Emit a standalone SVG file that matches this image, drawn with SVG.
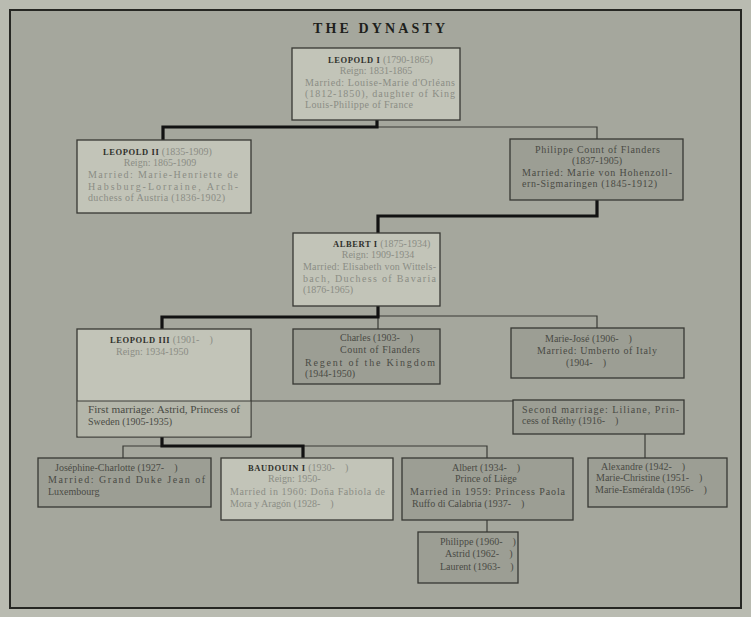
<svg xmlns="http://www.w3.org/2000/svg" width="751" height="617" viewBox="0 0 751 617">
  <style>
    text { font-family: "Liberation Serif", "Times New Roman", serif; font-size: 10px; }
    .title { font-size: 14px; font-weight: bold; fill: #1e1f1c; }
    .box-l { fill: #c2c4b8; stroke: #373833; stroke-width: 1.3; }
    .box-d { fill: #9c9e94; stroke: #373833; stroke-width: 1.3; }
    .box-m { fill: #b4b6aa; stroke: none; }
    .tl { fill: #8b8d85; }
    .tn { fill: #2f302c; font-weight: bold; font-size: 8.5px; letter-spacing: 0.6px; }
    .td { fill: #4a4b45; }
    .thick { fill: none; stroke: #121212; stroke-width: 3.2; }
    .thin { fill: none; stroke: #3a3b36; stroke-width: 1.2; }
  </style>

  <!-- page and frame -->
  <rect x="0" y="0" width="751" height="617" fill="#b9bbb1"/>
  <rect x="10" y="10" width="731" height="598" fill="#a5a79d" stroke="#262723" stroke-width="2"/>

  <text class="title" x="313" y="33" textLength="132" lengthAdjust="spacing">THE DYNASTY</text>

  <!-- connectors -->
  <g id="connectors">
    <path class="thin" d="M377 127 H597 V139"/>
    <path class="thick" d="M377 120 V127 H163 V140"/>
    <path class="thick" d="M597 200 V216 H378 V233"/>
    <path class="thin" d="M378 316 H597 V328 M378 316 V329"/>
    <path class="thick" d="M378 306 V317 H162 V329"/>
    <path class="thin" d="M251 401 H513"/>
    <path class="thin" d="M123 458 V446 H487 V458"/>
    <path class="thick" d="M162 437 V446 H303 V458"/>
    <path class="thin" d="M645 434 V458"/>
    <path class="thin" d="M487 520 V532"/>
  </g>

  <g id="leopold-1">
    <rect class="box-l" x="292" y="48" width="168" height="72"/>
    <text x="328" y="63"><tspan class="tn">LEOPOLD I</tspan><tspan class="tl"> (1790-1865)</tspan></text>
    <text class="tl" x="376" y="74" text-anchor="middle">Reign: 1831-1865</text>
    <text class="tl" x="305" y="86" textLength="150" lengthAdjust="spacing">Married: Louise-Marie d'Orléans</text>
    <text class="tl" x="305" y="97" textLength="150" lengthAdjust="spacing">(1812-1850), daughter of King</text>
    <text class="tl" x="305" y="108" textLength="108" lengthAdjust="spacing">Louis-Philippe of France</text>
  </g>

  <g id="leopold-2">
    <rect class="box-l" x="77" y="140" width="174" height="73"/>
    <text x="103" y="155"><tspan class="tn">LEOPOLD II</tspan><tspan class="tl"> (1835-1909)</tspan></text>
    <text class="tl" x="160" y="166" text-anchor="middle">Reign: 1865-1909</text>
    <text class="tl" x="88" y="178" textLength="150" lengthAdjust="spacing">Married: Marie-Henriette de</text>
    <text class="tl" x="88" y="190" textLength="150" lengthAdjust="spacing">Habsburg-Lorraine, Arch-</text>
    <text class="tl" x="88" y="201" textLength="137" lengthAdjust="spacing">duchess of Austria (1836-1902)</text>
  </g>

  <g id="philippe-flanders">
    <rect class="box-d" x="510" y="139" width="173" height="61"/>
    <text class="td" x="535" y="153" textLength="125" lengthAdjust="spacing">Philippe Count of Flanders</text>
    <text class="td" x="597" y="164" text-anchor="middle">(1837-1905)</text>
    <text class="td" x="522" y="176" textLength="150" lengthAdjust="spacing">Married: Marie von Hohenzoll-</text>
    <text class="td" x="522" y="187" textLength="135" lengthAdjust="spacing">ern-Sigmaringen (1845-1912)</text>
  </g>

  <g id="albert-1">
    <rect class="box-l" x="293" y="233" width="147" height="73"/>
    <text x="333" y="247"><tspan class="tn">ALBERT I</tspan><tspan class="tl"> (1875-1934)</tspan></text>
    <text class="tl" x="378" y="258" text-anchor="middle">Reign: 1909-1934</text>
    <text class="tl" x="303" y="270" textLength="133" lengthAdjust="spacing">Married: Elisabeth von Wittels-</text>
    <text class="tl" x="303" y="282" textLength="133" lengthAdjust="spacing">bach, Duchess of Bavaria</text>
    <text class="tl" x="303" y="293">(1876-1965)</text>
  </g>

  <g id="leopold-3">
    <rect class="box-l" x="77" y="329" width="174" height="108"/>
    <rect class="box-m" x="77.7" y="401" width="172.6" height="35.3"/>
    <line class="thin" x1="77" y1="401" x2="251" y2="401"/>
    <text x="110" y="343"><tspan class="tn">LEOPOLD III</tspan><tspan class="tl"> (1901-&#160;&#160;&#160;&#160;)</tspan></text>
    <text class="tl" x="116" y="355">Reign: 1934-1950</text>
    <text class="td" x="88" y="413" textLength="152" lengthAdjust="spacingAndGlyphs">First marriage: Astrid, Princess of</text>
    <text class="td" x="88" y="425">Sweden (1905-1935)</text>
  </g>

  <g id="charles">
    <rect class="box-d" x="293" y="329" width="147" height="55"/>
    <text class="td" x="340" y="341">Charles (1903-&#160;&#160;&#160;&#160;)</text>
    <text class="td" x="340" y="353" textLength="80" lengthAdjust="spacing">Count of Flanders</text>
    <text class="td" x="305" y="366" textLength="130" lengthAdjust="spacing">Regent of the Kingdom</text>
    <text class="td" x="305" y="377">(1944-1950)</text>
  </g>

  <g id="marie-jose">
    <rect class="box-d" x="511" y="328" width="173" height="50"/>
    <text class="td" x="545" y="342">Marie-José (1906-&#160;&#160;&#160;&#160;)</text>
    <text class="td" x="537" y="354" textLength="120" lengthAdjust="spacing">Married: Umberto of Italy</text>
    <text class="td" x="566" y="366">(1904-&#160;&#160;&#160;&#160;)</text>
  </g>

  <g id="second-marriage">
    <rect class="box-d" x="513" y="400" width="171" height="34"/>
    <text class="td" x="522" y="413" textLength="157" lengthAdjust="spacing">Second marriage: Liliane, Prin-</text>
    <text class="td" x="522" y="424">cess of Réthy (1916-&#160;&#160;&#160;&#160;)</text>
  </g>

  <g id="josephine-charlotte">
    <rect class="box-d" x="38" y="458" width="173" height="49"/>
    <text class="td" x="55" y="471">Joséphine-Charlotte (1927-&#160;&#160;&#160;&#160;)</text>
    <text class="td" x="48" y="483" textLength="157" lengthAdjust="spacing">Married: Grand Duke Jean of</text>
    <text class="td" x="48" y="495">Luxembourg</text>
  </g>

  <g id="baudouin-1">
    <rect class="box-l" x="221" y="458" width="172" height="62"/>
    <text x="248" y="471"><tspan class="tn">BAUDOUIN I</tspan><tspan class="tl"> (1930-&#160;&#160;&#160;&#160;)</tspan></text>
    <text class="tl" x="268" y="482">Reign: 1950-&#160;&#160;&#160;&#160;</text>
    <text class="tl" x="230" y="495" textLength="155" lengthAdjust="spacing">Married in 1960: Doña Fabiola de</text>
    <text class="tl" x="230" y="507">Mora y Aragón (1928-&#160;&#160;&#160;&#160;)</text>
  </g>

  <g id="albert-liege">
    <rect class="box-d" x="402" y="458" width="171" height="62"/>
    <text class="td" x="452" y="471">Albert (1934-&#160;&#160;&#160;&#160;)</text>
    <text class="td" x="455" y="482">Prince of Liège</text>
    <text class="td" x="410" y="495" textLength="155" lengthAdjust="spacing">Married in 1959: Princess Paola</text>
    <text class="td" x="412" y="507">Ruffo di Calabria (1937-&#160;&#160;&#160;&#160;)</text>
  </g>

  <g id="alexandre">
    <rect class="box-d" x="588" y="458" width="139" height="49"/>
    <text class="td" x="601" y="470">Alexandre (1942-&#160;&#160;&#160;&#160;)</text>
    <text class="td" x="596" y="481">Marie-Christine (1951-&#160;&#160;&#160;&#160;)</text>
    <text class="td" x="595" y="493">Marie-Esméralda (1956-&#160;&#160;&#160;&#160;)</text>
  </g>

  <g id="children-albert">
    <rect class="box-d" x="418" y="532" width="100" height="51"/>
    <text class="td" x="440" y="545">Philippe (1960-&#160;&#160;&#160;&#160;)</text>
    <text class="td" x="445" y="557">Astrid (1962-&#160;&#160;&#160;&#160;)</text>
    <text class="td" x="440" y="570">Laurent (1963-&#160;&#160;&#160;&#160;)</text>
  </g>
</svg>
